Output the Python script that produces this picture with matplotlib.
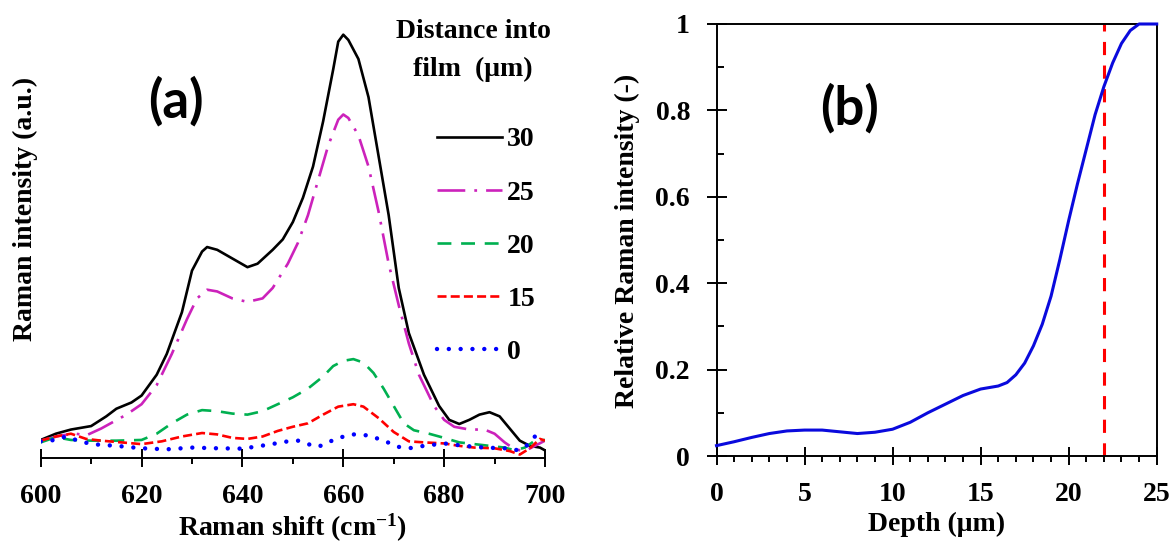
import matplotlib
matplotlib.use("Agg")
import matplotlib.pyplot as plt
from matplotlib.ticker import MultipleLocator, FormatStrFormatter

plt.rcParams['font.family'] = ['Liberation Serif', 'DejaVu Serif']
plt.rcParams['font.weight'] = 'bold'
plt.rcParams['axes.labelweight'] = 'bold'
plt.rcParams['mathtext.default'] = 'regular'
plt.rcParams['lines.scale_dashes'] = False

# --- (a) Raman spectra at several distances into the film ---
shift_30 = [600, 603, 606, 610, 613, 615, 618, 620, 623, 625, 628, 630, 632, 633, 635, 638, 641, 643,
            646, 648, 650, 652, 654, 656, 658, 659, 660, 661, 663, 665, 667, 669, 671, 673, 676, 679,
            681, 683, 685, 687, 689, 691, 693, 695, 697, 699, 700]
int_30 = [5.2, 7.0, 8.2, 9.2, 12.0, 14.2, 16.0, 18.0, 24.0, 30.0, 42.0, 54.0, 59.5, 60.8, 60.0, 57.5,
          55.0, 56.0, 60.0, 63.0, 68.0, 75.0, 84.0, 97.0, 112.0, 120.0, 122.0, 120.5, 115.0, 104.0,
          87.0, 70.0, 49.0, 36.0, 24.0, 15.0, 11.0, 9.8, 11.0, 12.5, 13.2, 12.0, 8.5, 5.0, 3.5, 3.0, 2.2]

shift_25 = [600, 604, 607, 609, 612, 617, 620, 623, 626, 629, 631, 633, 635, 638, 641, 644, 646, 649,
            651, 653, 655, 657, 659, 660, 661, 663, 665, 667, 669, 671, 673, 675, 678, 680, 682, 685,
            688, 690, 692, 694, 696, 698, 700]
int_25 = [5.0, 6.5, 7.0, 6.5, 8.5, 12.5, 15.5, 21.0, 30.0, 40.0, 46.0, 48.5, 48.0, 46.0, 45.0, 46.0,
          49.0, 56.0, 62.0, 70.0, 80.0, 90.0, 97.5, 99.0, 98.0, 93.0, 84.0, 71.0, 56.0, 44.0, 33.0,
          24.0, 15.0, 11.0, 9.0, 8.2, 8.2, 7.0, 4.5, 2.5, 2.0, 3.5, 5.0]

shift_20 = [600, 603, 606, 610, 615, 620, 623, 626, 629, 632, 635, 638, 641, 644, 647, 650, 653, 656,
            658, 660, 662, 664, 666, 668, 670, 672, 674, 677, 680, 683, 686, 689, 692, 694, 696, 698, 700]
int_20 = [4.5, 6.0, 5.2, 5.0, 5.0, 5.2, 7.0, 10.0, 12.5, 13.8, 13.5, 12.8, 12.5, 13.5, 15.5, 17.5,
          20.0, 23.5, 26.5, 28.0, 28.5, 27.5, 24.5, 20.0, 15.0, 10.0, 8.0, 7.0, 5.8, 4.5, 4.0, 3.5,
          3.0, 2.2, 3.0, 5.0, 5.2]

shift_15 = [600, 603, 606, 609, 612, 616, 620, 624, 628, 632, 635, 638, 641, 644, 647, 650, 653, 656,
            659, 662, 664, 667, 670, 673, 676, 680, 683, 686, 690, 693, 695, 697, 699, 700]
int_15 = [5.0, 6.2, 7.0, 5.5, 5.0, 4.5, 4.0, 4.8, 6.2, 7.2, 6.8, 5.8, 5.5, 6.2, 7.8, 9.0, 10.0, 12.5,
          14.8, 15.5, 14.8, 11.5, 7.5, 4.8, 4.5, 4.2, 3.5, 3.0, 2.8, 2.0, 1.0, 2.8, 5.5, 5.0]

shift_0 = [600, 603, 605, 607, 610, 615, 620, 625, 630, 635, 640, 645, 649, 651, 653, 655, 657, 659,
           662, 665, 668, 671, 673, 676, 680, 684, 688, 692, 694, 696, 698, 700]
int_0 = [4.8, 5.2, 6.2, 5.2, 4.0, 3.5, 2.8, 2.5, 3.0, 2.8, 2.7, 3.8, 4.8, 5.0, 4.0, 3.2, 4.5, 5.8,
         6.8, 6.5, 5.0, 3.2, 2.8, 3.5, 4.2, 3.5, 3.0, 2.8, 2.2, 3.0, 6.2, 5.2]

# --- (b) relative intensity vs depth ---
depth = [0, 1, 2, 3, 4, 5, 6, 7, 8, 9, 10, 11, 12, 13, 14, 15, 16, 16.5, 17, 17.5, 18, 18.5, 19,
         19.5, 20, 20.5, 21, 21.5, 22, 22.5, 23, 23.5, 24, 24.5, 25]
rel_int = [0.024, 0.033, 0.043, 0.052, 0.058, 0.060, 0.060, 0.056, 0.052, 0.055, 0.062, 0.078, 0.100,
           0.120, 0.140, 0.155, 0.162, 0.170, 0.188, 0.215, 0.255, 0.305, 0.370, 0.455, 0.545,
           0.630, 0.710, 0.790, 0.855, 0.910, 0.955, 0.985, 1.0, 1.0, 1.0]
critical_depth = 22

W, H = 1174, 542
fig = plt.figure(figsize=(W / 100, H / 100), dpi=100)

# panel (a)
ax1 = fig.add_axes([40.7 / W, 84 / H, 504.3 / W, 458 / H])
ax1.plot(shift_30, int_30, color='black', lw=1.9, label='30')
ax1.plot(shift_25, int_25, color='#CC22BB', lw=1.9, ls=(0, (20, 6.5, 2, 6.5)), label='25')
ax1.plot(shift_20, int_20, color='#00B050', lw=1.9, ls=(0, (10, 7)), label='20')
ax1.plot(shift_15, int_15, color='#FF0000', lw=1.9, ls=(0, (6.5, 3)), label='15')
ax1.plot(shift_0, int_0, color='#0000FF', lw=3.2, ls=(0, (0.01, 8.5)),
         dash_capstyle='round', label='0')
ax1.set_xlim(600, 700)
ax1.set_ylim(0, 132)
for s in ['left', 'right', 'top']:
    ax1.spines[s].set_visible(False)
ax1.spines['bottom'].set_linewidth(1.4)
ax1.set_yticks([])
ax1.xaxis.set_major_locator(MultipleLocator(20))
ax1.xaxis.set_minor_locator(MultipleLocator(10))
ax1.tick_params(axis='x', which='major', direction='inout', length=13, width=1.4,
                labelsize=20, pad=12)
ax1.tick_params(axis='x', which='minor', direction='out', length=4, width=1.4)
ax1.set_xlabel('Raman shift (cm$^{-1}$)', fontsize=20, labelpad=2)
fig.text(25 / W, 1 - 209 / H, 'Raman intensity (a.u.)', rotation=90, fontsize=20,
         ha='center', va='center')
ax1.text((176 - 40.7) / 504.3, 1 - 101 / 458, '(a)', transform=ax1.transAxes,
         family='Lato', weight='bold', fontsize=38, ha='center', va='center')

fig.text(473 / W, 1 - 32 / H, 'Distance into', fontsize=20, ha='center', va='center')
fig.text(473 / W, 1 - 69 / H, 'film  (\u03bcm)', fontsize=20, ha='center', va='center')
ax1.legend(loc='center left', bbox_to_anchor=(437 / W, 1 - 246 / H),
           bbox_transform=fig.transFigure, frameon=False, fontsize=20,
           handlelength=2.35, handletextpad=0.18, labelspacing=1.0,
           borderpad=0, borderaxespad=0)

# panel (b)
ax2 = fig.add_axes([716.5 / W, 86 / H, 440.2 / W, 432 / H])
ax2.plot(depth, rel_int, color='#0A0ADD', lw=2.2, clip_on=False, zorder=4)
ax2.axvline(critical_depth, color='#FF0000', lw=2.2, ls=(0, (9.5, 7.5)))
ax2.set_xlim(0, 25)
ax2.set_ylim(0, 1)
for s in ax2.spines.values():
    s.set_linewidth(1.4)
ax2.xaxis.set_major_locator(MultipleLocator(5))
ax2.xaxis.set_minor_locator(MultipleLocator(1))
ax2.yaxis.set_major_locator(MultipleLocator(0.2))
ax2.yaxis.set_minor_locator(MultipleLocator(0.1))
ax2.yaxis.set_major_formatter(FormatStrFormatter('%g'))
ax2.tick_params(axis='x', which='major', direction='inout', length=13, width=1.4,
                labelsize=20, pad=12)
ax2.tick_params(axis='x', which='minor', direction='out', length=4, width=1.4)
ax2.tick_params(axis='y', which='major', direction='inout', length=14, width=1.4,
                labelsize=20, pad=12)
ax2.tick_params(axis='y', which='minor', direction='in', length=5, width=1.4)
ax2.set_xlabel('Depth (\u03bcm)', fontsize=20, labelpad=4)
fig.text(627 / W, 1 - 241 / H, 'Relative Raman intensity (-)', rotation=90, fontsize=20,
         ha='center', va='center')
ax2.text((850 - 716.5) / 440.2, 1 - (108 - 24) / 432, '(b)', transform=ax2.transAxes,
         family='Lato', weight='bold', fontsize=38, ha='center', va='center')

fig.savefig('out.png', dpi=100, facecolor='white')
